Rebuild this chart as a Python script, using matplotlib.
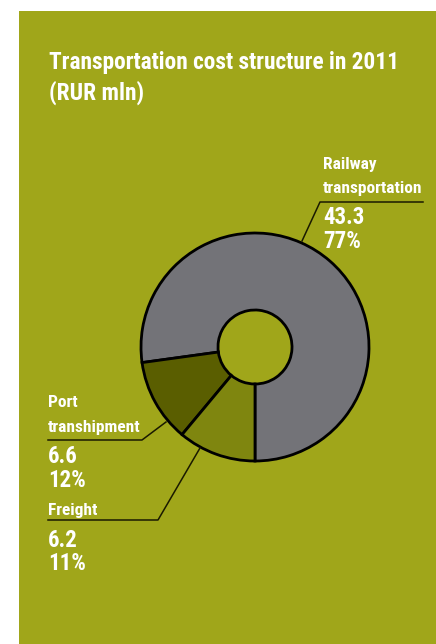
import matplotlib.pyplot as plt
from matplotlib.patches import Rectangle

# 2011 transportation cost structure, RUR mln
categories = ['Railway\ntransportation', 'Port\ntranshipment', 'Freight']
values = [43.3, 6.6, 6.2]
colors = ['#737378', '#5a5e00', '#7f860f']

BG = '#a0a61a'
W, H = 436, 644

plt.rcParams['font.family'] = ['Roboto Condensed', 'Roboto', 'DejaVu Sans']

fig = plt.figure(figsize=(W / 100, H / 100), dpi=100)
fig.patch.set_facecolor('white')
ax = fig.add_axes([0, 0, 1, 1])


def Y(y):
    # pixel row (top = 0) -> axis y
    return H - y


# olive panel
ax.add_patch(Rectangle((19, 0), W - 19, Y(11), facecolor=BG, edgecolor='none', zorder=0))

# donut
ax.pie(values, colors=colors, startangle=-90, counterclock=True,
       center=(255, Y(347)), radius=114,
       wedgeprops=dict(width=77, edgecolor='black', linewidth=2))
ax.set_xlim(0, W)
ax.set_ylim(0, H)
ax.set_aspect('equal')
ax.axis('off')

# title
ax.text(49, Y(69), 'Transportation cost structure in 2011', color='white',
        fontsize=16.8, fontweight='bold', va='baseline')
ax.text(49, Y(100), '(RUR mln)', color='white',
        fontsize=16.8, fontweight='bold', va='baseline')

total = sum(values)
pcts = [f'{round(v / total * 100):.0f}%' for v in values]

# label positions: x, name baselines, value baselines, leader line points
labels = [
    dict(x=323, name_y=[169, 193], val_y=[224, 248],
         line=[(302, 241), (320, 202), (423, 202)]),
    dict(x=48, name_y=[407, 432], val_y=[463, 487],
         line=[(166, 422), (142, 440), (48, 440)]),
    dict(x=48, name_y=[515], val_y=[547, 570],
         line=[(200, 448), (158, 520), (48, 520)]),
]

for cat, v, p, lab in zip(categories, values, pcts, labels):
    for line, y in zip(cat.split('\n'), lab['name_y']):
        ax.text(lab['x'], Y(y), line, color='white', fontsize=12.5,
                fontweight='bold', va='baseline')
    ax.text(lab['x'], Y(lab['val_y'][0]), f'{v}', color='white', fontsize=16.5,
            fontweight='bold', va='baseline')
    ax.text(lab['x'], Y(lab['val_y'][1]), p, color='white', fontsize=16.5,
            fontweight='bold', va='baseline')
    xs = [pt[0] for pt in lab['line']]
    ys = [Y(pt[1]) for pt in lab['line']]
    ax.plot(xs, ys, color='#1a1a00', linewidth=1.1, zorder=3)

fig.savefig('out.png', dpi=100, facecolor=fig.get_facecolor())
